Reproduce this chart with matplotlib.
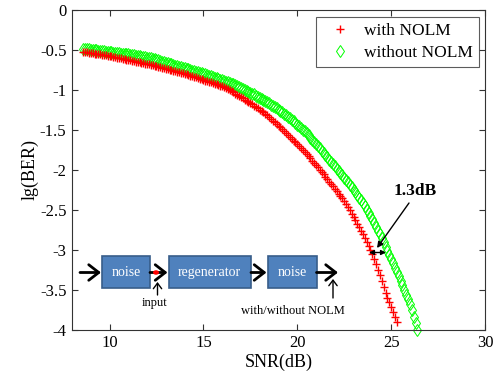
import matplotlib
matplotlib.use("Agg")
import matplotlib.pyplot as plt
from matplotlib.patches import Rectangle, FancyArrowPatch, Circle

plt.rcParams['font.family'] = ['Liberation Serif', 'DejaVu Serif']
plt.rcParams['axes.unicode_minus'] = False

# ---- data ----
snr_with = [
    8.6, 8.7, 8.8, 8.9, 9.0, 9.1, 9.2, 9.3, 9.4, 9.5,
    9.6, 9.7, 9.8, 9.9, 10.0, 10.1, 10.2, 10.3, 10.4, 10.5,
    10.6, 10.7, 10.8, 10.9, 11.0, 11.1, 11.2, 11.3, 11.4, 11.5,
    11.6, 11.7, 11.8, 11.9, 12.0, 12.1, 12.2, 12.3, 12.4, 12.5,
    12.6, 12.7, 12.8, 12.9, 13.0, 13.1, 13.2, 13.3, 13.4, 13.5,
    13.6, 13.7, 13.8, 13.9, 14.0, 14.1, 14.2, 14.3, 14.4, 14.5,
    14.6, 14.7, 14.8, 14.9, 15.0, 15.1, 15.2, 15.3, 15.4, 15.5,
    15.6, 15.7, 15.8, 15.9, 16.0, 16.1, 16.2, 16.3, 16.4, 16.5,
    16.6, 16.7, 16.8, 16.9, 17.0, 17.1, 17.2, 17.3, 17.4, 17.5,
    17.6, 17.7, 17.8, 17.9, 18.0, 18.1, 18.2, 18.3, 18.4, 18.5,
    18.6, 18.7, 18.8, 18.9, 19.0, 19.1, 19.2, 19.3, 19.4, 19.5,
    19.6, 19.7, 19.8, 19.9, 20.0, 20.1, 20.2, 20.3, 20.4, 20.5,
    20.6, 20.7, 20.8, 20.9, 21.0, 21.1, 21.2, 21.3, 21.4, 21.5,
    21.6, 21.7, 21.8, 21.9, 22.0, 22.1, 22.2, 22.3, 22.4, 22.5,
    22.6, 22.7, 22.8, 22.9, 23.0, 23.1, 23.2, 23.3, 23.4, 23.5,
    23.6, 23.7, 23.8, 23.9, 24.0, 24.1, 24.2, 24.3, 24.4, 24.5,
    24.6, 24.7, 24.8, 24.9, 25.0, 25.1, 25.2, 25.3]
ber_with = [
    -0.530, -0.533, -0.537, -0.540, -0.543, -0.547, -0.550, -0.553, -0.557, -0.560,
    -0.564, -0.568, -0.572, -0.576, -0.580, -0.585, -0.590, -0.595, -0.600, -0.605,
    -0.610, -0.615, -0.620, -0.625, -0.630, -0.635, -0.640, -0.645, -0.650, -0.655,
    -0.660, -0.665, -0.670, -0.675, -0.680, -0.685, -0.690, -0.696, -0.702, -0.708,
    -0.714, -0.720, -0.726, -0.732, -0.738, -0.744, -0.750, -0.756, -0.763, -0.770,
    -0.777, -0.784, -0.791, -0.798, -0.805, -0.812, -0.819, -0.826, -0.833, -0.840,
    -0.848, -0.856, -0.864, -0.872, -0.880, -0.888, -0.896, -0.904, -0.912, -0.920,
    -0.928, -0.936, -0.944, -0.952, -0.962, -0.972, -0.982, -0.992, -1.005, -1.020,
    -1.035, -1.050, -1.065, -1.080, -1.095, -1.110, -1.125, -1.140, -1.155, -1.170,
    -1.186, -1.202, -1.218, -1.234, -1.250, -1.268, -1.286, -1.304, -1.322, -1.345,
    -1.370, -1.390, -1.410, -1.430, -1.450, -1.470, -1.494, -1.518, -1.542, -1.566,
    -1.590, -1.614, -1.638, -1.662, -1.686, -1.710, -1.735, -1.760, -1.785, -1.810,
    -1.836, -1.862, -1.888, -1.914, -1.940, -1.970, -2.000, -2.030, -2.060, -2.090,
    -2.120, -2.150, -2.180, -2.210, -2.240, -2.270, -2.300, -2.330, -2.360, -2.395,
    -2.430, -2.470, -2.510, -2.550, -2.590, -2.630, -2.675, -2.720, -2.765, -2.810,
    -2.860, -2.910, -2.960, -3.010, -3.060, -3.120, -3.180, -3.250, -3.320, -3.390,
    -3.470, -3.540, -3.600, -3.660, -3.720, -3.780, -3.840, -3.910]

snr_without = [
    8.6, 8.7, 8.8, 8.9, 9.0, 9.1, 9.2, 9.3, 9.4, 9.5,
    9.6, 9.7, 9.8, 9.9, 10.0, 10.1, 10.2, 10.3, 10.4, 10.5,
    10.6, 10.7, 10.8, 10.9, 11.0, 11.1, 11.2, 11.3, 11.4, 11.5,
    11.6, 11.7, 11.8, 11.9, 12.0, 12.1, 12.2, 12.3, 12.4, 12.5,
    12.6, 12.7, 12.8, 12.9, 13.0, 13.1, 13.2, 13.3, 13.4, 13.5,
    13.6, 13.7, 13.8, 13.9, 14.0, 14.1, 14.2, 14.3, 14.4, 14.5,
    14.6, 14.7, 14.8, 14.9, 15.0, 15.1, 15.2, 15.3, 15.4, 15.5,
    15.6, 15.7, 15.8, 15.9, 16.0, 16.1, 16.2, 16.3, 16.4, 16.5,
    16.6, 16.7, 16.8, 16.9, 17.0, 17.1, 17.2, 17.3, 17.4, 17.5,
    17.6, 17.7, 17.8, 17.9, 18.0, 18.1, 18.2, 18.3, 18.4, 18.5,
    18.6, 18.7, 18.8, 18.9, 19.0, 19.1, 19.2, 19.3, 19.4, 19.5,
    19.6, 19.7, 19.8, 19.9, 20.0, 20.1, 20.2, 20.3, 20.4, 20.5,
    20.6, 20.7, 20.8, 20.9, 21.0, 21.1, 21.2, 21.3, 21.4, 21.5,
    21.6, 21.7, 21.8, 21.9, 22.0, 22.1, 22.2, 22.3, 22.4, 22.5,
    22.6, 22.7, 22.8, 22.9, 23.0, 23.1, 23.2, 23.3, 23.4, 23.5,
    23.6, 23.7, 23.8, 23.9, 24.0, 24.1, 24.2, 24.3, 24.4, 24.5,
    24.6, 24.7, 24.8, 24.9, 25.0, 25.1, 25.2, 25.3, 25.4, 25.5,
    25.6, 25.7, 25.8, 25.9, 26.0, 26.1, 26.2, 26.3, 26.4]
ber_without = [
    -0.490, -0.493, -0.496, -0.499, -0.502, -0.505, -0.508, -0.511, -0.514, -0.517,
    -0.520, -0.523, -0.526, -0.529, -0.532, -0.535, -0.538, -0.541, -0.544, -0.547,
    -0.550, -0.553, -0.556, -0.559, -0.562, -0.566, -0.570, -0.574, -0.578, -0.582,
    -0.586, -0.590, -0.594, -0.598, -0.602, -0.606, -0.610, -0.617, -0.624, -0.630,
    -0.637, -0.644, -0.651, -0.658, -0.665, -0.672, -0.679, -0.686, -0.693, -0.700,
    -0.707, -0.714, -0.721, -0.728, -0.735, -0.742, -0.749, -0.756, -0.763, -0.770,
    -0.777, -0.784, -0.791, -0.798, -0.805, -0.812, -0.820, -0.828, -0.836, -0.844,
    -0.852, -0.860, -0.868, -0.876, -0.884, -0.892, -0.900, -0.908, -0.917, -0.926,
    -0.935, -0.946, -0.957, -0.968, -0.979, -0.990, -1.002, -1.014, -1.026, -1.038,
    -1.050, -1.062, -1.075, -1.088, -1.101, -1.115, -1.129, -1.143, -1.158, -1.173,
    -1.188, -1.203, -1.218, -1.234, -1.250, -1.267, -1.284, -1.302, -1.320, -1.339,
    -1.358, -1.378, -1.398, -1.418, -1.438, -1.459, -1.480, -1.502, -1.524, -1.546,
    -1.573, -1.600, -1.627, -1.654, -1.680, -1.708, -1.736, -1.764, -1.792, -1.820,
    -1.848, -1.876, -1.904, -1.932, -1.960, -1.988, -2.016, -2.044, -2.072, -2.100,
    -2.130, -2.160, -2.190, -2.220, -2.250, -2.284, -2.318, -2.352, -2.386, -2.420,
    -2.460, -2.500, -2.540, -2.580, -2.620, -2.668, -2.716, -2.764, -2.812, -2.860,
    -2.912, -2.964, -3.016, -3.068, -3.120, -3.174, -3.228, -3.282, -3.336, -3.390,
    -3.448, -3.506, -3.564, -3.622, -3.680, -3.760, -3.840, -3.920, -4.000]

xticks = [10, 15, 20, 25, 30]
yticks = [0, -0.5, -1, -1.5, -2, -2.5, -3, -3.5, -4]
ytick_labels = ['0', '-0.5', '-1', '-1.5', '-2', '-2.5', '-3', '-3.5', '-4']

W, H = 501, 376
fig = plt.figure(figsize=(W / 100, H / 100), dpi=100)
L, R, T, B = 72, 485, 9.5, 329.5
ax = fig.add_axes([L / W, 1 - B / H, (R - L) / W, (B - T) / H])

ax.plot(snr_with, ber_with, linestyle='none', marker='+', color='#ff0000',
        markersize=5.5, markeredgewidth=1.0, label='with NOLM', clip_on=False, zorder=3)
ax.plot(snr_without, ber_without, linestyle='none', marker='d', color='#00ff00',
        markerfacecolor='none', markersize=6, markeredgewidth=0.7, label='without NOLM',
        clip_on=False, zorder=2)

ax.set_xlim(8, 30)
ax.set_ylim(-4, 0)
ax.set_xticks(xticks)
ax.set_yticks(yticks)
ax.set_yticklabels(ytick_labels)
ax.tick_params(direction='in', top=True, right=True, labelsize=12, length=4,
               color='#333333', width=0.8, pad=4)
for s in ax.spines.values():
    s.set_color('#333333')
    s.set_linewidth(0.8)

ax.set_xlabel('SNR(dB)', fontsize=13, labelpad=2)
ax.set_ylabel('lg(BER)', fontsize=13, labelpad=1)

leg = ax.legend(loc='upper right', bbox_to_anchor=(479 / W, 1 - 17 / H),
                bbox_transform=fig.transFigure, fontsize=12.5, frameon=True,
                fancybox=False, edgecolor='#333333', borderpad=0.35, handlelength=2.0,
                handletextpad=0.4, labelspacing=0.3, borderaxespad=0)
leg.get_frame().set_linewidth(0.8)

# ---- pixel helper for annotations ----
def P(x, y):
    return (x / W, 1 - y / H)

ft = fig.transFigure

# ---- 1.3dB annotation ----
fig.add_artist(FancyArrowPatch(P(369, 252.5), P(386, 252.5), transform=ft,
               arrowstyle='<|-|>', mutation_scale=7, lw=1.0, color='black',
               shrinkA=0, shrinkB=0))
fig.add_artist(FancyArrowPatch(P(409, 203), P(377, 248), transform=ft,
               arrowstyle='-|>', mutation_scale=9, lw=1.0, color='black',
               shrinkA=0, shrinkB=0))
fig.text(*P(415, 191), '1.3dB', fontsize=12.5, fontweight='bold', ha='center', va='center')

# ---- inset block diagram ----
box_fc = '#4f81bd'
box_ec = '#385d8a'
boxes = [(102, 256, 150, 288, 'noise'), (168.5, 256, 251, 288, 'regenerator'),
         (267.5, 256, 316.5, 288, 'noise')]
for x0, y0, x1, y1, lab in boxes:
    fig.add_artist(Rectangle(P(x0, y1), (x1 - x0) / W, (y1 - y0) / H, transform=ft,
                             facecolor=box_fc, edgecolor=box_ec, lw=1.2))
    fig.text(*P((x0 + x1) / 2, (y0 + y1) / 2 + 0.5), lab, color='white', fontsize=10,
             ha='center', va='center')

for xa, xb in [(80, 101), (150, 167.5), (251, 266.5), (316.5, 338)]:
    fig.add_artist(FancyArrowPatch(P(xa, 272.5), P(xb, 272.5), transform=ft,
                   arrowstyle='->,head_length=0.45,head_width=0.35', mutation_scale=16,
                   lw=2.0, color='black', shrinkA=0, shrinkB=0))

fig.add_artist(Circle(P(156, 272.5), 3.0 / W, transform=ft,
                      facecolor='#ff0000', edgecolor='none'))
fig.add_artist(FancyArrowPatch(P(157.5, 295), P(157.5, 282), transform=ft,
               arrowstyle='->,head_length=0.4,head_width=0.3', mutation_scale=10,
               lw=1.0, color='black', shrinkA=0, shrinkB=0))
fig.add_artist(FancyArrowPatch(P(333, 298), P(333, 279), transform=ft,
               arrowstyle='->,head_length=0.4,head_width=0.3', mutation_scale=10,
               lw=1.0, color='black', shrinkA=0, shrinkB=0))
fig.text(*P(155, 303), 'input', fontsize=9, ha='center', va='center')
fig.text(*P(293, 311), 'with/without NOLM', fontsize=9, ha='center', va='center')

fig.savefig('out.png', dpi=100)
